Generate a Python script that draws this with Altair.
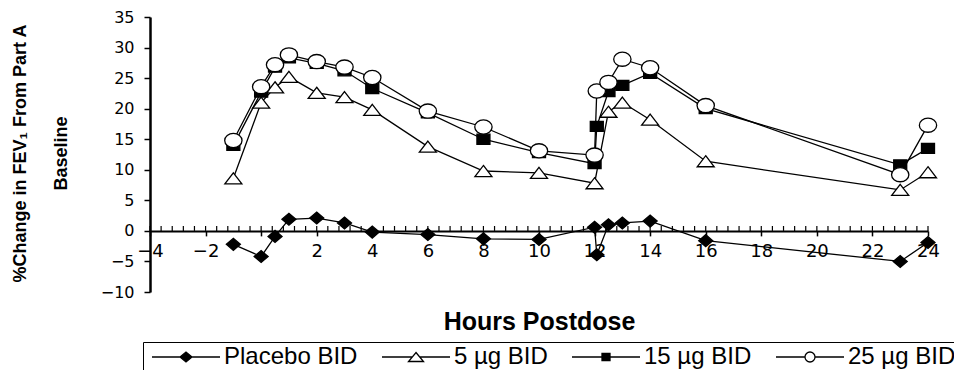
import altair as alt
import numpy as np
import pandas as pd

# ---------------- data ----------------
series_names = ["Placebo BID", "5 µg BID", "15 µg BID", "25 µg BID"]

hours_placebo = [-1, 0, 0.5, 1, 2, 3, 4, 6, 8, 10, 12, 12.08, 12.5, 13, 14, 16, 23, 24]
pct_placebo = [-2.2, -4.2, -0.9, 1.9, 2.1, 1.3, -0.2, -0.6, -1.3, -1.4, 0.6, -3.9, 1.0, 1.3, 1.6, -1.6, -5.0, -1.9]

hours_5ug = [-1, 0, 0.5, 1, 2, 3, 4, 6, 8, 10, 12, 12.5, 13, 14, 16, 23, 24]
pct_5ug = [8.6, 21.0, 23.5, 25.2, 22.6, 21.9, 19.8, 13.8, 9.8, 9.5, 7.8, 19.5, 21.0, 18.2, 11.4, 6.7, 9.6]

hours_15ug = [-1, 0, 0.5, 1, 2, 3, 4, 6, 8, 10, 12, 12.08, 12.5, 13, 14, 16, 23, 24]
pct_15ug = [14.0, 22.7, 26.8, 28.3, 27.4, 26.2, 23.3, 19.3, 15.0, 12.8, 11.0, 17.1, 22.8, 23.8, 25.8, 20.0, 10.8, 13.5]

hours_25ug = [-1, 0, 0.5, 1, 2, 3, 4, 6, 8, 10, 12, 12.08, 12.5, 13, 14, 16, 23, 24]
pct_25ug = [14.8, 23.6, 27.2, 28.8, 27.7, 26.8, 25.1, 19.6, 17.0, 13.1, 12.4, 22.9, 24.3, 28.1, 26.7, 20.5, 9.2, 17.3]

x_tick_values = list(range(-4, 25, 2))
y_tick_values = list(range(-10, 36, 5))
minor_tick_hours = np.round(np.arange(-4, 24.001, 0.4), 2)

rows = []
for name, hrs, vals in zip(series_names,
                           [hours_placebo, hours_5ug, hours_15ug, hours_25ug],
                           [pct_placebo, pct_5ug, pct_15ug, pct_25ug]):
    for i, (h, v) in enumerate(zip(hrs, vals)):
        rows.append({"series": name, "hour": h, "value": v, "order": i})
df = pd.DataFrame(rows)
ticks_df = pd.DataFrame({"tick": minor_tick_hours})

# ---------------- styling ----------------
W, H = 778, 275
TICK_FONT = "DejaVu Sans"
TEXT_FONT = "Liberation Sans"

xs = alt.Scale(domain=[-4, 24], nice=False, zero=False)
ys = alt.Scale(domain=[-10, 35], nice=False, zero=False)

zero_offset = -(H - H * 35 / 45)  # bring x axis up to y = 0

x_axis = alt.Axis(
    values=x_tick_values, offset=zero_offset, grid=False,
    labelExpr="datum.value == 0 ? '' : datum.label",
    labelFont=TICK_FONT, labelFontSize=18, labelColor="black", labelPadding=7,
    labelFlush=False, labelOverlap=False,
    domainColor="black", domainWidth=2, tickColor="black", tickWidth=1.5, tickSize=5,
    title="Hours Postdose", titleFont=TEXT_FONT, titleFontSize=25, titleFontWeight="bold",
    titleColor="black", titleBaseline="middle", titleY=91,
)
y_axis = alt.Axis(
    values=y_tick_values, grid=False,
    labelFont=TICK_FONT, labelFontSize=16, labelColor="black", labelPadding=10,
    labelFlush=False, labelOverlap=False,
    domainColor="black", domainWidth=2.5, tickColor="black", tickWidth=1.5, tickSize=6,
    title=["%Change in FEV₁ From Part A", "Baseline"], titleFont=TEXT_FONT,
    titleFontSize=18, titleFontWeight="bold", titleColor="black",
    titleAngle=270, titleAlign="center", titleBaseline="bottom",
    titleX=-121, titleY=136, titleLineHeight=41,
)

chart_shapes = {
    "Placebo BID": ("M-1,0L0,-0.85L1,0L0,0.85Z", "black", 196),
    "5 µg BID": ("M0,-0.65L1,0.65L-1,0.65Z", "white", 289),
    "15 µg BID": ("M-1,-0.77H1V0.77H-1Z", "black", 169),
    "25 µg BID": ("M-1,0A1,0.82 0 1,0 1,0A1,0.82 0 1,0 -1,0Z", "white", 300),
}

legend_paths = [
    "M-6.8,0H-1.2M1.2,0H6.8M-1.2,0L0,-1L1.2,0L0,1Z",
    "M-6.8,0H-0.75M0.75,0H6.8M0,-0.9L1.5,0.9L-1.5,0.9Z",
    "M-6.8,0H-0.8M0.8,0H6.8M-0.8,-0.7H0.8V0.7H-0.8Z",
    "M-6.8,0H-1M1,0H6.8M-1,0A1,1 0 1,0 1,0A1,1 0 1,0 -1,0Z",
]
legend_fills = ["black", "white", "black", "white"]
legend_strokes = ["black", "black", "black", "black"]

base = alt.Chart(df)
layers = []

# minor ticks on the zero line (pointing up)
layers.append(
    alt.Chart(ticks_df).mark_rule(color="black", strokeWidth=1.2).encode(
        x=alt.X("tick:Q", scale=xs, axis=x_axis),
        y=alt.YDatum(0, scale=ys, axis=y_axis),
        y2=alt.Y2Datum(0.8),
    )
)

for k, name in enumerate(series_names):
    path, fill, size = chart_shapes[name]
    sub = base.transform_filter(alt.datum.series == name)
    line = sub.mark_line(color="black", strokeWidth=1.3).encode(
        x=alt.X("hour:Q", scale=xs, axis=x_axis),
        y=alt.Y("value:Q", scale=ys, axis=y_axis),
        order="order:Q",
    )
    pts = sub.mark_point(shape=path, filled=True, fill=fill, stroke="black",
                         strokeWidth=1.3, size=size, opacity=1).encode(
        x=alt.X("hour:Q", scale=xs, axis=x_axis),
        y=alt.Y("value:Q", scale=ys, axis=y_axis),
    )
    layers += [line, pts]

legend = alt.Legend(
    orient="none", legendX=-7, legendY=325, direction="horizontal", title=None,
    labelFont=TEXT_FONT, labelFontSize=24, labelColor="black", labelLimit=0,
    symbolSize=100, symbolStrokeColor="black", symbolStrokeWidth=1.3,
    symbolOpacity=1, symbolOffset=28, labelOffset=26, columnPadding=18,
    padding=3, strokeColor="black",
)

legend_layer = base.mark_point(filled=False, strokeWidth=1.3,
                               opacity=1, clip=True).encode(
    x=alt.value(-400), y=alt.value(-400),
    shape=alt.Shape("series:N", scale=alt.Scale(domain=series_names, range=legend_paths),
                    legend=legend),
    fill=alt.Fill("series:N", scale=alt.Scale(domain=series_names, range=legend_fills),
                  legend=legend),
    stroke=alt.Stroke("series:N", scale=alt.Scale(domain=series_names, range=legend_strokes),
                      legend=legend),
)
layers.append(legend_layer)

chart = alt.layer(*layers).properties(
    width=W, height=H,
    padding={"left": 142, "top": 9, "right": 26, "bottom": 78},
    autosize=alt.AutoSizeParams(type="none"),
    background="white",
).configure_view(strokeWidth=0)

chart.save("out.html", embed_options={"renderer": "svg", "actions": False})
